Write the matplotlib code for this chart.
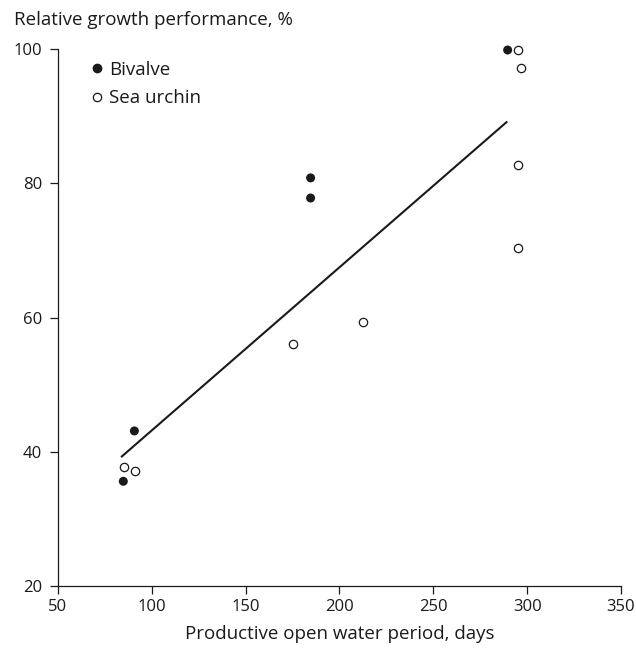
import matplotlib
matplotlib.use("Agg")
import matplotlib.pyplot as plt
from matplotlib.lines import Line2D

# ── Data ─────────────────────────────────────────────────────────────────
BIVALVE_X = [84.8, 90.7, 184.6, 184.6, 289.6]
BIVALVE_Y = [35.6, 43.1, 80.8, 77.8, 99.85]

URCHIN_X = [85.2, 90.9, 175.1, 212.7, 295.3, 296.6, 295.3, 295.3]
URCHIN_Y = [37.7, 37.1, 56.0, 59.3, 99.85, 97.2, 82.7, 70.3]

TREND_X = [83.6, 289.4]
TREND_Y = [39.2, 89.2]

X_TICKS = [50, 100, 150, 200, 250, 300, 350]
Y_TICKS = [20, 40, 60, 80, 100]

FONT = ["Open Sans", "DejaVu Sans"]
plt.rcParams["font.family"] = FONT
INK = "#1a1a1a"

fig = plt.figure(figsize=(6.36, 6.51), dpi=100)
ax = fig.add_axes([58 / 636, 1 - 586 / 651, (621 - 58) / 636, (586 - 49) / 651])

ax.plot(TREND_X, TREND_Y, color=INK, linewidth=1.5, solid_capstyle="butt",
        zorder=2)
ax.scatter(BIVALVE_X, BIVALVE_Y, s=42, color=INK, edgecolors="none",
           zorder=3, clip_on=False)
ax.scatter(URCHIN_X, URCHIN_Y, s=36, facecolors="white", edgecolors=INK,
           linewidths=0.9, zorder=3, clip_on=False)

ax.set_xlim(50, 350)
ax.set_ylim(20, 100)
ax.set_xticks(X_TICKS)
ax.set_yticks(Y_TICKS)
for s in ("top", "right"):
    ax.spines[s].set_visible(False)
for s in ("left", "bottom"):
    ax.spines[s].set_linewidth(0.9)
    ax.spines[s].set_color(INK)
ax.tick_params(direction="out", length=5.5, width=0.9, color=INK,
               labelsize=12, labelcolor=INK)
ax.tick_params(axis="x", pad=4)
ax.tick_params(axis="y", pad=6)

ax.set_xlabel("Productive open water period, days", fontsize=13.5,
              color=INK, labelpad=7)
fig.text(14 / 636, 1 - 20 / 651, "Relative growth performance, %",
         fontsize=13.5, color=INK, ha="left", va="center")

handles = [
    Line2D([], [], marker="o", linestyle="none", markersize=6,
           markerfacecolor=INK, markeredgecolor=INK),
    Line2D([], [], marker="o", linestyle="none", markersize=6,
           markerfacecolor="white", markeredgecolor=INK,
           markeredgewidth=0.9),
]
ax.legend(handles, ["Bivalve", "Sea urchin"], loc="upper left",
          bbox_to_anchor=(0.046, 0.992), frameon=False, fontsize=13.5,
          handlelength=0.6, handletextpad=0.35, labelspacing=0.55,
          borderaxespad=0, labelcolor=INK)

fig.savefig("out.png", dpi=100)
